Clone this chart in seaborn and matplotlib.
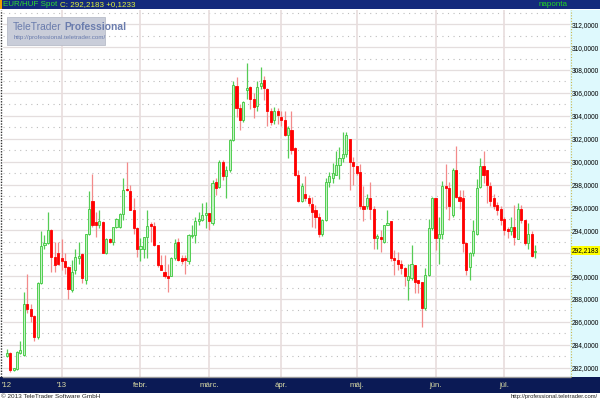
import numpy as np
import pandas as pd
import matplotlib
matplotlib.use("Agg")
import matplotlib.pyplot as plt
from matplotlib.patches import Rectangle
from matplotlib.lines import Line2D
import seaborn as sns

# ---------------- data ----------------
start_date = "2012-12-10"
open_ = [283.0, 283.3, 281.8, 281.85, 283.25, 283.1, 287.6, 287.1, 286.5, 284.65,
         289.4, 292.7, 292.9, 294.0, 291.7, 292.0, 291.6, 291.3, 290.8, 288.8,
         290.5, 291.55, 291.9, 289.7, 293.7, 296.6, 294.7, 294.5, 294.75, 292.0,
         293.2, 293.0, 294.3, 294.3, 295.4, 297.6, 297.4, 295.8, 294.2, 292.4,
         292.4, 293.4, 294.55, 294.4, 292.7, 291.0, 290.4, 290.0, 290.0, 291.6,
         293.0, 291.55, 291.55, 291.3, 293.5, 293.6, 294.8, 294.9, 295.3, 295.5,
         294.6, 298.2, 297.8, 300.0, 298.7, 299.3, 301.9, 306.6, 304.7, 303.6,
         306.25, 306.5, 305.5, 304.9, 306.6, 307.1, 306.3, 304.4, 303.6, 304.4,
         303.9, 303.6, 302.3, 302.8, 301.2, 298.8, 296.6, 297.2, 296.8, 296.3,
         295.8, 295.2, 293.7, 294.9, 298.2, 298.6, 298.8, 299.7, 300.3, 300.7,
         302.0, 300.0, 299.6, 299.1, 296.1, 296.1, 296.8, 295.9, 293.3, 293.4,
         293.0, 294.5, 294.8, 291.6, 291.4, 291.1, 290.7, 289.7, 289.8, 291.0,
         289.7, 289.5, 287.2, 290.1, 294.2, 296.8, 293.3, 293.7, 297.9, 297.7,
         295.3, 299.3, 296.9, 296.8, 292.9, 290.8, 292.0, 293.7, 297.8, 299.6,
         299.3, 297.9, 296.8, 296.2, 295.9, 295.0, 294.1, 293.9, 294.3, 293.2,
         295.9, 294.9, 292.9, 293.7, 292.1]
high = [283.6, 283.4, 282.0, 283.5, 284.3, 288.6, 290.2, 287.55, 286.6, 289.5,
        293.9, 293.6, 295.6, 294.1, 293.0, 293.0, 293.2, 292.0, 290.9, 291.4,
        292.4, 293.0, 292.0, 293.7, 297.4, 298.9, 295.6, 295.8, 294.8, 293.3,
        293.3, 294.3, 295.1, 295.5, 298.6, 300.0, 298.0, 296.8, 294.3, 293.3,
        293.4, 295.8, 294.76, 294.75, 292.7, 291.85, 291.85, 291.1, 291.7, 293.2,
        293.3, 291.85, 291.85, 293.7, 294.5, 295.2, 295.6, 296.4, 296.5, 295.5,
        298.4, 298.6, 300.1, 300.1, 299.6, 302.0, 307.0, 307.4, 305.0, 305.3,
        308.6, 306.6, 306.0, 307.0, 308.3, 307.5, 306.4, 304.7, 304.8, 304.7,
        304.4, 304.4, 303.1, 304.4, 301.3, 299.3, 298.1, 298.7, 297.1, 296.9,
        296.2, 295.5, 295.0, 298.6, 299.1, 299.9, 300.9, 301.3, 302.6, 302.6,
        302.0, 300.4, 299.6, 299.8, 297.9, 297.2, 298.2, 296.1, 293.7, 294.0,
        294.5, 295.8, 294.8, 292.3, 292.1, 291.4, 290.8, 291.1, 292.7, 291.0,
        289.7, 289.5, 290.7, 295.0, 296.9, 296.8, 295.2, 298.3, 299.8, 298.2,
        299.4, 301.4, 297.5, 297.5, 293.0, 292.1, 294.9, 298.5, 300.3, 300.9,
        299.3, 298.2, 297.2, 296.5, 296.1, 295.2, 294.3, 295.2, 296.2, 296.4,
        296.2, 294.9, 294.6, 293.9, 292.7]
low = [282.9, 281.65, 281.7, 281.8, 283.2, 283.0, 286.75, 286.0, 284.3, 284.5,
       289.3, 292.4, 292.8, 290.4, 290.4, 291.0, 290.5, 290.2, 288.0, 288.6,
       290.2, 291.1, 289.4, 289.3, 293.6, 294.3, 293.4, 294.2, 292.0, 291.9,
       292.9, 292.7, 294.2, 294.2, 294.9, 297.4, 295.8, 293.7, 291.7, 291.3,
       291.55, 291.55, 293.0, 292.6, 290.8, 290.5, 289.8, 288.6, 290.0, 291.4,
       291.3, 291.1, 290.2, 291.1, 293.3, 292.9, 294.5, 294.8, 294.2, 294.0,
       294.5, 297.1, 297.7, 298.4, 296.8, 299.1, 301.8, 303.9, 302.8, 303.5,
       305.5, 304.6, 303.8, 304.4, 306.3, 305.4, 303.1, 303.2, 303.3, 303.3,
       303.1, 302.2, 300.3, 300.7, 298.7, 296.5, 296.5, 296.6, 296.1, 294.3,
       294.2, 293.4, 293.5, 294.8, 297.8, 298.1, 298.8, 298.5, 300.0, 300.4,
       297.5, 298.0, 298.8, 295.9, 294.8, 295.9, 295.0, 292.4, 292.4, 292.1,
       292.9, 294.5, 291.3, 290.1, 290.5, 290.2, 289.1, 287.9, 289.7, 288.5,
       288.5, 285.6, 287.0, 290.0, 294.0, 292.3, 291.1, 293.2, 295.9, 294.9,
       295.2, 296.8, 295.9, 292.1, 290.1, 289.7, 291.8, 293.6, 297.7, 298.1,
       296.4, 296.1, 295.9, 295.3, 294.5, 293.6, 293.3, 293.6, 292.7, 293.2,
       294.6, 292.7, 292.4, 291.7, 291.6]
close = [283.3, 281.8, 281.95, 283.4, 283.55, 287.6, 287.1, 286.5, 284.7, 289.4,
         292.6, 292.9, 294.0, 291.7, 291.0, 291.1, 291.3, 290.8, 288.85, 290.4,
         291.7, 291.8, 289.8, 293.7, 295.9, 294.5, 294.5, 294.8, 292.0, 293.2,
         293.0, 294.3, 295.0, 295.4, 297.5, 297.5, 295.8, 294.2, 292.4, 292.6,
         293.4, 294.4, 294.4, 292.7, 291.0, 290.5, 290.0, 289.8, 291.6, 292.9,
         291.4, 291.3, 291.4, 293.6, 293.6, 294.8, 295.0, 295.3, 295.5, 294.8,
         298.1, 297.7, 300.0, 298.7, 299.3, 301.9, 306.7, 304.7, 303.6, 305.2,
         306.4, 305.5, 304.8, 306.5, 306.9, 306.4, 304.4, 303.5, 304.4, 304.1,
         303.6, 302.3, 302.9, 301.0, 298.8, 296.6, 297.9, 296.8, 296.4, 295.6,
         295.2, 293.7, 294.9, 298.2, 298.7, 299.0, 299.7, 300.3, 300.7, 302.3,
         300.0, 299.6, 299.0, 296.1, 295.9, 296.8, 295.9, 293.3, 293.5, 293.2,
         294.5, 294.6, 291.6, 291.4, 291.1, 290.7, 290.0, 290.0, 291.1, 289.5,
         289.4, 287.2, 290.1, 294.2, 296.8, 293.3, 293.7, 297.9, 297.7, 296.1,
         299.3, 296.9, 296.6, 292.9, 290.5, 292.0, 293.9, 297.7, 299.6, 298.8,
         298.0, 296.6, 296.1, 295.8, 294.9, 294.0, 293.9, 294.3, 293.4, 295.9,
         294.9, 292.9, 293.7, 291.8, 292.2183]
month_labels = ["'12", "'13", "febr.", "márc.", "ápr.", "máj.", "jún.", "júl."]
y_ticks = list(range(282, 313, 2))
last_close = 292.2183
last_change = 0.1233
title_name = "EUR/HUF Spot"
period_text = "naponta"

# ---------------- style ----------------
sns.set_theme(style="white")
plt.rcParams['font.family'] = ['Liberation Sans', 'DejaVu Sans']

W, H = 600, 400
def fx(px):
    return px / W
def fy(py):
    return 1 - py / H

fig = plt.figure(figsize=(6, 4), dpi=100)
fig.patch.set_facecolor('white')
renderer = fig.canvas.get_renderer()

def right_px(t):
    return t.get_window_extent(renderer=renderer).x1

PL, PR, PT, PB = 3, 570, 10, 377
ax = fig.add_axes([fx(PL), fy(PB), fx(PR) - fx(PL), fy(PT) - fy(PB)])
ax.set_facecolor('white')

df = pd.DataFrame({'date': pd.bdate_range(start_date, periods=len(close)),
                   'open': open_, 'high': high, 'low': low, 'close': close})
df['pos'] = np.arange(len(df))
up = df['close'].values > df['open'].values

# grid
for v in range(282, 314, 2):
    ax.axhline(v, color='#e4dede', lw=0.9, zorder=0)
for v in range(281, 315, 2):
    ax.axhline(v, color='#bdbdbd', lw=0.8, ls=(0, (1, 4)), zorder=0)

month_first = df.groupby([df['date'].dt.year, df['date'].dt.month])['pos'].first().values
for p in month_first[1:]:
    ax.axvline(p, color='#e8dddd', lw=1.2, zorder=0)

# candles
wick_cols = np.where(up, '#55cc55', '#f38a8a')
ax.vlines(df['pos'], df['low'], df['high'], colors=wick_cols, lw=0.9, zorder=2)
body_bottom = np.minimum(df['open'], df['close'])
body_h = np.maximum(np.abs(df['close'] - df['open']), 0.09)
fills = np.where(up, '#c4f2c4', '#ff0000')
edges = np.where(up, '#3cc83c', '#ff0000')
ax.bar(df['pos'], body_h, bottom=body_bottom, width=0.62, color=fills,
       edgecolor=edges, linewidth=0.6, zorder=3)

ax.set_xlim(-1.08, 164.2)
ax.set_ylim(281.19, 313.24)

# axes styling
for s in ['top', 'right', 'left']:
    ax.spines[s].set_visible(False)
ax.spines['bottom'].set_color('#9a9a9a')
ax.spines['bottom'].set_linewidth(1.0)

# right value axis (the 292 label is hidden under the last-price box)
ax.yaxis.tick_right()
ax.set_yticks(y_ticks)
ylabels = [f"{v:.4f}".replace('.', ',') if abs(v - last_close) > 1 else ""
           for v in y_ticks]
ax.set_yticklabels(ylabels)
ax.tick_params(axis='y', length=0, pad=1.3, labelsize=4.75, labelcolor='black')

ax.set_xticks(month_first)
ax.set_xticklabels(month_labels)
ax.tick_params(axis='x', length=2, width=0.8, color='#e8e070', direction='out',
               pad=1.3, labelsize=5.6, labelcolor='#dcdca6')

# highlight of last price
ax.text(1.0 + 2.2 / (PR - PL), last_close, f"{last_close:.4f}".replace('.', ','),
        transform=ax.get_yaxis_transform(), ha='left', va='center',
        fontsize=4.75, color='black', zorder=20, clip_on=False,
        bbox=dict(facecolor='#ffff00', edgecolor='none', pad=0.7))

# ---------------- frame decorations ----------------
# right value panel
fig.add_artist(Rectangle((fx(PR), fy(PB)), fx(600) - fx(PR), fy(PT) - fy(PB),
                         transform=fig.transFigure, facecolor='#def9fd',
                         edgecolor='none', zorder=-1))
fig.add_artist(Line2D([fx(PR + 0.5)] * 2, [fy(PB), fy(PT)], transform=fig.transFigure,
                      color='#c8b850', lw=0.8, ls=(0, (1, 1.5)), zorder=5))
# header bar
fig.add_artist(Rectangle((0, fy(9)), 1, 9 / H, transform=fig.transFigure,
                         facecolor='#142a7c', edgecolor='none', zorder=-1))
fig.add_artist(Rectangle((0, fy(9)), fx(2), 9 / H, transform=fig.transFigure,
                         facecolor='#f0a000', edgecolor='none', zorder=1))
t1 = fig.text(fx(3), fy(4.8), title_name, color='#2fe02f', fontsize=5.8,
              ha='left', va='center')
x_next = right_px(t1) + 3
fig.text(x_next / W, fy(4.8), f"C: {last_close:.4f} +{last_change:.4f}".replace('.', ','),
         color='#e2f23a', fontsize=5.8, ha='left', va='center')
fig.text(fx(568), fy(4.8), period_text, color='#22d822', fontsize=5.8,
         ha='right', va='center')
# bottom axis bar
fig.add_artist(Rectangle((0, fy(393)), 1, (393 - PB) / H, transform=fig.transFigure,
                         facecolor='#0b1a55', edgecolor='none', zorder=-1))
# left border (dotted)
fig.add_artist(Line2D([fx(1.2)] * 2, [fy(PB), fy(PT)], transform=fig.transFigure,
                      color='#333333', lw=1.0, ls=(0, (1, 1)), zorder=5))
# watermark box
fig.add_artist(Rectangle((fx(7), fy(45)), fx(105) - fx(7), (45 - 17) / H,
                         transform=fig.transFigure, facecolor='#c9cdd9',
                         edgecolor='#b9bdc9', lw=0.6, zorder=4))
w1 = fig.text(fx(13), fy(27.5), "TeleTrader", color='#6a7cad', fontsize=7.4,
              ha='left', va='center', zorder=6)
x_next = right_px(w1) + 2.5
fig.text(x_next / W, fy(27.5), "Professional", color='#6a7cad', fontsize=7.4,
         fontweight='bold', ha='left', va='center', zorder=6)
fig.text(fx(60), fy(37.5), "http://professional.teletrader.com/", color='#6a7cad',
         fontsize=4.5, ha='center', va='center', zorder=6)
# footer
fig.text(fx(1), fy(396.3), "© 2013 TeleTrader Software GmbH", color='#222222',
         fontsize=4.6, ha='left', va='center')
fig.text(fx(598), fy(396.3), "http://professional.teletrader.com/", color='#222222',
         fontsize=4.2, ha='right', va='center')

fig.savefig("out.png", dpi=100)
